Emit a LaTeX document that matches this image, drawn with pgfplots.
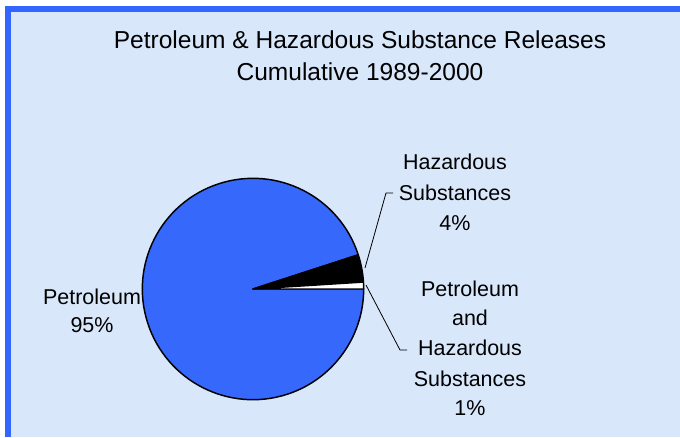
\documentclass[border=0pt]{standalone}
\usepackage{pgfplots}
\pgfplotsset{compat=1.18}
\usepackage{fontspec}
\setmainfont{Liberation Sans}
\definecolor{bgblue}{RGB}{216,231,250}
\definecolor{pieblue}{RGB}{55,104,252}
\definecolor{frameblue}{RGB}{51,102,255}
\begin{document}
\begin{tikzpicture}
\begin{axis}[
  width=510pt, height=327.75pt, scale only axis,
  xmin=0, xmax=680, ymin=0, ymax=437, y dir=reverse,
  hide axis, clip=false,
]
% background and frame
\fill[white] (axis cs:0,0) rectangle (axis cs:680,437);
\fill[frameblue] (axis cs:5,6) rectangle (axis cs:680,437);
\fill[bgblue] (axis cs:11,12) rectangle (axis cs:680,437);
% pie data: Petroleum 95, Hazardous 4, Both 1
\pgfmathsetmacro{\vBoth}{1}
\pgfmathsetmacro{\vHaz}{4}
\pgfmathsetmacro{\vPet}{95}
\pgfmathsetmacro{\aA}{0}
\pgfmathsetmacro{\aB}{\aA+3.6*\vBoth}
\pgfmathsetmacro{\aC}{\aB+3.6*\vHaz}
\pgfmathsetmacro{\aD}{\aC+3.6*\vPet}
\def\R{83pt}
\filldraw[fill=pieblue, draw=black, line width=1.1pt, line join=round]
  (axis cs:253,289) -- ++(\aC:\R) arc[start angle=\aC, end angle=\aD, radius=\R] -- cycle;
\filldraw[fill=black, draw=black, line width=1.1pt, line join=round]
  (axis cs:253,289) -- ++(\aB:\R) arc[start angle=\aB, end angle=\aC, radius=\R] -- cycle;
\filldraw[fill=white, draw=black, line width=1.1pt, line join=round]
  (axis cs:253,289) -- ++(\aA:\R) arc[start angle=\aA, end angle=\aB, radius=\R] -- cycle;
% leader lines
\draw[black, line width=0.6pt] (axis cs:365,268) -- (axis cs:386,193) -- (axis cs:393,193);
\draw[black, line width=0.6pt] (axis cs:366,285) -- (axis cs:400,350) -- (axis cs:407,350);
% title
\node[anchor=base, font=\fontsize{18.4pt}{22pt}\selectfont] at (axis cs:360,48.5) {Petroleum \& Hazardous Substance Releases};
\node[anchor=base, font=\fontsize{18.4pt}{22pt}\selectfont] at (axis cs:360,80.5) {Cumulative 1989-2000};
% labels
\tikzset{lbl/.style={anchor=base, font=\fontsize{16.1pt}{19pt}\selectfont}}
\node[lbl] at (axis cs:92,304.5) {Petroleum};
\node[lbl] at (axis cs:92,332.5) {95\%};
\node[lbl] at (axis cs:455,169.5) {Hazardous};
\node[lbl] at (axis cs:455,200.5) {Substances};
\node[lbl] at (axis cs:455,230.5) {4\%};
\node[lbl] at (axis cs:470,296.5) {Petroleum};
\node[lbl] at (axis cs:470,325.5) {and};
\node[lbl] at (axis cs:470,355.5) {Hazardous};
\node[lbl] at (axis cs:470,386.5) {Substances};
\node[lbl] at (axis cs:470,415.5) {1\%};
\end{axis}
\end{tikzpicture}
\end{document}
